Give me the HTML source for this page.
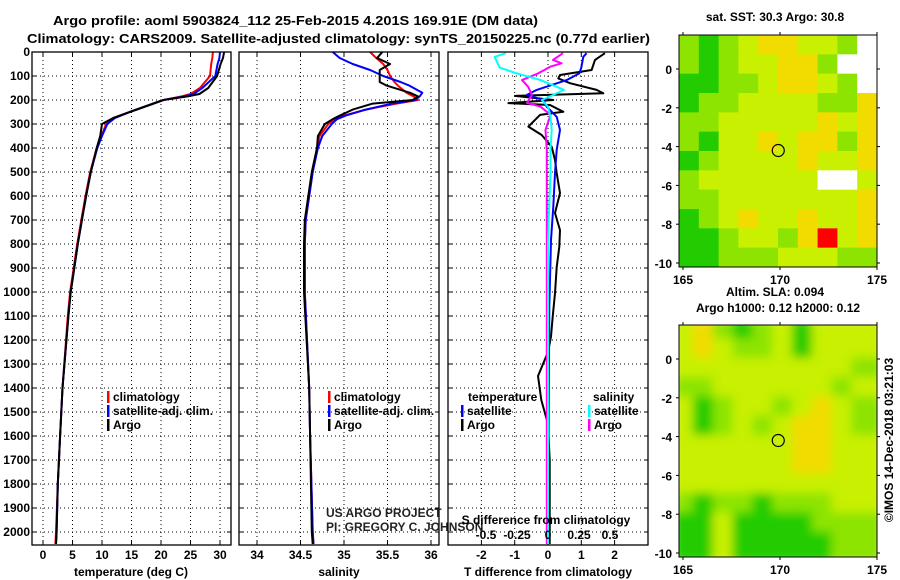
<!DOCTYPE html>
<html><head><meta charset="utf-8"><style>
html,body{margin:0;padding:0;background:#fff;}
svg{display:block;font-family:"Liberation Sans",sans-serif;}
.b{font-weight:bold;font-size:13px;}
.t{font-weight:bold;font-size:12px;}
</style></head><body>
<svg id="fig" width="900" height="580" viewBox="0 0 900 580" xmlns="http://www.w3.org/2000/svg">
<text class="b" x="53" y="25" textLength="485" lengthAdjust="spacingAndGlyphs">Argo profile: aoml 5903824_112 25-Feb-2015 4.201S 169.91E (DM data)</text>
<text class="b" x="27" y="43" textLength="623" lengthAdjust="spacingAndGlyphs">Climatology: CARS2009. Satellite-adjusted climatology: synTS_20150225.nc (0.77d earlier)</text>
<g id="maps"></g>
<g id="panels"></g>
</svg>
<script>
// ---------- data ----------
const depthTicks = [0,100,200,300,400,500,600,700,800,900,1000,1100,1200,1300,1400,1500,1600,1700,1800,1900,2000];
const tempTicks = [0,5,10,15,20,25,30];
const salTicks = [34,34.5,35,35.5,36];
const tdiffTicks = [-2,-1,0,1,2];
const sdiffTicks = [-0.5,-0.25,0,0.25,0.5];
const sdiffLabels = ["-0.5","-0.25","0","0.25","0.5"];

const tDepth = [0,25,50,100,150,175,185,200,250,275,300,350,400,500,600,700,800,900,1000,1100,1400,1500,1600,1800,2000,2050];
const tArgo  = [30.7,30.5,30.1,29.5,28,26.5,24.5,20.4,14.7,11.9,10,9.7,9.1,8.1,7.3,6.6,5.9,5.3,4.7,4.3,3.3,3.1,2.9,2.5,2.3,2.2];
const tClim  = [28.8,28.7,28.5,28.3,26.6,25,23.5,20.4,14.7,12.1,10.7,9.9,9.1,8.0,7.2,6.5,5.8,5.2,4.6,4.2,3.3,3.1,2.9,2.5,2.2,2.1];
const tSat   = [30.0,29.9,29.6,29.2,27,25.5,24,20.4,14.7,12.2,10.9,10.0,9.2,8.1,7.3,6.6,5.9,5.3,4.7,4.3,3.3,3.1,2.9,2.5,2.3,2.2];

const sDepth = [0,25,50,75,100,125,140,170,185,200,215,240,265,280,300,350,400,500,600,700,800,1000,1400,1600,2000,2050];
const sArgo  = [35.44,35.38,35.53,35.41,35.41,35.41,35.49,35.76,35.85,35.79,35.33,35.1,34.95,34.87,34.78,34.7,34.69,34.63,34.59,34.55,34.54,34.54,34.6,34.61,34.63,34.64];
const sClim  = [35.3,35.37,35.45,35.5,35.53,35.58,35.62,35.72,35.8,35.85,35.6,35.25,35.0,34.9,34.82,34.72,34.69,34.64,34.6,34.56,34.55,34.55,34.6,34.61,34.64,34.65];
const sSat   = [34.87,34.95,35.1,35.3,35.45,35.65,35.75,35.9,35.87,35.82,35.55,35.25,35.02,34.92,34.86,34.75,34.7,34.64,34.6,34.56,34.55,34.55,34.6,34.61,34.64,34.65];

const dDepth  = [5,33,75,96,110,130,158,172,183,200,213,221,249,262,311,346,395,450,505,588,671,742,812,896,1005,1103,1186,1250,1350,1450,1550,1700,2000,2050];
const dTArgo  = [1.71,1.41,1.31,0.36,0.31,0.66,1.46,1.66,-0.99,0.16,-1.19,0.06,0.46,-0.24,-0.59,-0.19,0.11,0.21,0.26,0.36,0.21,0.36,0.34,0.26,0.21,0.14,0.09,0.0,-0.3,-0.2,0.0,0.05,0.05,0.05];
const cDepth  = [5,20,65,89,117,158,179,200,228,270,325,408,505,644,783,1061,1500,2050];
const dTSat   = [1.16,1.06,1.0,0.94,0.56,-0.34,-0.64,-0.14,-0.04,0.26,0.36,0.26,0.21,0.16,0.09,0.04,0.02,0.0];
const dSSat   = [-0.34,-0.43,-0.39,-0.25,-0.06,0.13,0.04,-0.05,0.0,0.02,0.03,0.02,0.02,0.01,0.0,0.0,0.0,0.0];
const mDepth  = [5,33,47,61,89,117,145,179,212,228,262,325,408,700,1200,1600,2050];
const dSArgo  = [0.12,0.04,0.11,0.02,-0.08,-0.21,-0.16,-0.13,-0.17,-0.06,0.02,-0.02,-0.01,-0.01,-0.01,-0.01,-0.01];

const latTicks = [0,-2,-4,-6,-8,-10];
const lonTicks = [165,170,175];
const sstGrid = [
 "gGgyYYyygW","gGgyyYYgWW","GGggyYYygW","GggyyyyggY","ggyyyyyYyY","gGyyYyYYgY",
 "GgyyyyYyyY","gyyyyyyWWy","ggyyyyyyyY","GgyYyyYyyY","GGgyygYRyY","GGgggyyygg"];
const slaGrid = [
 "yYgGgyGyyy","yYyggyGyyy","yyyyyyyyyg","ggyyyyyygy","yGgyygyYyg","yGgygyYYyg",
 "yyyyyyYYyy","yyyyyyYYyy","yyyyyyyyyy","gGggGgggyy","GGyGGGGggg","GGyGGGGGgg"];

// ---------- helpers ----------
const NS="http://www.w3.org/2000/svg";
function mk(tag,attrs,parent,text){const e=document.createElementNS(NS,tag);for(const k in attrs)e.setAttribute(k,attrs[k]);if(text!==undefined)e.textContent=text;parent.appendChild(e);return e;}
const Y0=52, PXD=0.24, BOT=545;
const yD=d=>Y0+d*PXD;
const panels=document.getElementById('panels');

function panelFrame(x0,x1,name){
  const g=mk('g',{},panels);
  
  
  depthTicks.forEach(d=>{if(d>0){const l=mk('line',{x1:x0,x2:x1,y1:yD(d),y2:yD(d),stroke:'#000','stroke-width':1,'stroke-dasharray':'1,3'},g);}
    mk('line',{x1:x0,x2:x0+4,y1:yD(d),y2:yD(d),stroke:'#000'},g);mk('line',{x1:x1-4,x2:x1,y1:yD(d),y2:yD(d),stroke:'#000'},g);});
  return g;
}
function vgrid(g,xs){xs.forEach(x=>{const l=mk('line',{x1:x,x2:x,y1:Y0,y2:BOT,stroke:'#000','stroke-width':1,'stroke-dasharray':'1,3'},g);
  mk('line',{x1:x,x2:x,y1:Y0,y2:Y0+4,stroke:'#000'},g);mk('line',{x1:x,x2:x,y1:BOT-4,y2:BOT,stroke:'#000'},g);});}
function border(g,x0,x1){const r=mk('rect',{x:x0,y:Y0,width:x1-x0,height:BOT-Y0,fill:'none',stroke:'#000','stroke-width':1.3},g);}
function line(g,depths,vals,xf,color,name,w){
  const pts=depths.map((d,i)=>xf(vals[i]).toFixed(1)+','+yD(d).toFixed(1)).join(' ');
  const p=mk('polyline',{points:pts,fill:'none',stroke:color,'stroke-width':w||2,'stroke-linejoin':'round'},g);
  
}
function txt(g,x,y,s,cls,anchor,name,extra){const t=mk('text',Object.assign({x:x,y:y,class:cls||'t','text-anchor':anchor||'start'},extra||{}),g,s);return t;}
function legend(g,x,y,color,label,name){mk('rect',{x:x,y:y-10,width:2.5,height:12,fill:color},g);txt(g,x+6,y,label,'t','start',name);}

// y axis labels
const ya=mk('g',{},panels);


depthTicks.forEach(d=>txt(ya,30,yD(d)+4,String(d),'t','end','y-tick-label'));

// Panel 1 temperature
const xT=v=>43+v*5.9;
const g1=panelFrame(32,231,'temperature-panel');
vgrid(g1,tempTicks.map(xT));
line(g1,tDepth,tClim,xT,'#f00','climatology-temp-line');
line(g1,tDepth,tSat,xT,'#00f','satellite-temp-line');
line(g1,tDepth,tArgo,xT,'#000','argo-temp-line');
border(g1,32,231);
tempTicks.forEach(v=>txt(g1,xT(v),559,String(v),'t','middle','x-tick-label'));
txt(g1,131,576,'temperature (deg C)','t','middle','x-axis-title-temperature');
legend(g1,107,401,'#f00','climatology','legend-climatology');
legend(g1,107,415,'#00f','satellite-adj. clim.','legend-satellite');
legend(g1,107,429,'#000','Argo','legend-argo');

// Panel 2 salinity
const xS=v=>257+(v-34)*87;
const g2=panelFrame(239,439,'salinity-panel');
vgrid(g2,salTicks.map(xS));
line(g2,sDepth,sClim,xS,'#f00','climatology-sal-line');
line(g2,sDepth,sSat,xS,'#00f','satellite-sal-line');
line(g2,sDepth,sArgo,xS,'#000','argo-sal-line');
border(g2,239,439);
salTicks.forEach(v=>txt(g2,xS(v),559,String(v),'t','middle','x-tick-label'));
txt(g2,339,576,'salinity','t','middle','x-axis-title-salinity');
legend(g2,328,401,'#f00','climatology','legend-climatology');
legend(g2,328,415,'#00f','satellite-adj. clim.','legend-satellite');
legend(g2,328,429,'#000','Argo','legend-argo');
txt(g2,326,517,'US ARGO PROJECT','','start','credit-project',{'font-size':'12px',fill:'#222'});
txt(g2,326,531,'PI: GREGORY C. JOHNSON','','start','credit-pi',{'font-size':'12px',fill:'#222'});

// Panel 3 differences
const xDT=v=>548+v*33.3;
const xDS=v=>548+v*124;
const g3=panelFrame(448,648,'difference-panel');
vgrid(g3,tdiffTicks.map(xDT));
line(g3,dDepth,dTArgo,xDT,'#000','argo-tdiff-line');
line(g3,cDepth,dTSat,xDT,'#00f','satellite-tdiff-line');
line(g3,mDepth,dSArgo,xDS,'#f0f','argo-sdiff-line');
line(g3,cDepth,dSSat,xDS,'#0ff','satellite-sdiff-line');
border(g3,448,648);
tdiffTicks.forEach(v=>txt(g3,xDT(v),559,String(v),'t','middle','x-tick-label'));
txt(g3,548,576,'T difference from climatology','t','middle','x-axis-title-tdiff');
txt(g3,546,524,'S difference from climatology','t','middle','x-axis-title-sdiff');
sdiffTicks.forEach((v,i)=>txt(g3,xDS(v),539,sdiffLabels[i],'t','middle','s-tick-label'));
txt(g3,468,401,'temperature','t','start','legend-temperature-header');
txt(g3,593,401,'salinity','t','start','legend-salinity-header');
legend(g3,461,415,'#00f','satellite','legend-t-satellite');
legend(g3,461,429,'#000','Argo','legend-t-argo');
legend(g3,588,415,'#0ff','satellite','legend-s-satellite');
legend(g3,588,429,'#f0f','Argo','legend-s-argo');

// ---------- maps ----------
const maps=document.getElementById('maps');
const COLS={G:'#22cc00',g:'#8ce400',y:'#c8f000',Y:'#f2dc00',W:'#ffffff',R:'#ff0000'};
const MX0=679, MX1=877;
const lonX=lon=>683+(lon-165)*19.4;
function drawMap(top,bottom,lat0y,latStep,grid,title1,title2,name,blur){
  const g=mk('g',{},maps);
  
  
  const latY=lat=>lat0y-lat*latStep;
  const cw=(MX1-MX0)/grid[0].length, ch=(bottom-top)/grid.length;
  const cid='clip'+name;
  const cp=mk('clipPath',{id:cid},g);mk('rect',{x:MX0,y:top,width:MX1-MX0,height:bottom-top},cp);
  const inner=mk('g',{'clip-path':'url(#'+cid+')'},g);
  const cells=mk('g',blur?{filter:'url(#blur)'}:{},inner);
  grid.forEach((row,r)=>[...row].forEach((c,k)=>{const rc=mk('rect',{x:MX0+k*cw-(blur?6:0),y:top+r*ch-(blur?6:0),width:cw+(blur?12:0.5),height:ch+(blur?12:0.5),fill:COLS[c]},cells);}));
  mk('rect',{x:MX0,y:top,width:MX1-MX0,height:bottom-top,fill:'none',stroke:'#000','stroke-width':1},g);
  latTicks.forEach(l=>{mk('line',{x1:MX0-3,x2:MX0,y1:latY(l),y2:latY(l),stroke:'#000'},g);mk('line',{x1:MX1,x2:MX1+3,y1:latY(l),y2:latY(l),stroke:'#000'},g);
    txt(g,672,latY(l)+5,String(l),'t','end','lat-tick-label');});
  lonTicks.forEach(l=>{mk('line',{x1:lonX(l),x2:lonX(l),y1:top-3,y2:top,stroke:'#000'},g);mk('line',{x1:lonX(l),x2:lonX(l),y1:bottom,y2:bottom+3,stroke:'#000'},g);
    txt(g,lonX(l),bottom+17,String(l),'t','middle','lon-tick-label');});
  const c=mk('circle',{cx:lonX(169.91),cy:latY(-4.201),r:6,fill:'none',stroke:'#000','stroke-width':1.2},g);
  
  txt(g,775,top-14-(title2?15:0)+ (title2?0:0),title1,'t','middle','map-title');
  if(title2)txt(g,778,top-13,title2,'t','middle','map-subtitle');
}
const defs=mk('defs',{},maps);
const f=mk('filter',{id:'blur',x:'-5%',y:'-5%',width:'110%',height:'110%'},defs);
mk('feGaussianBlur',{stdDeviation:5},f);
drawMap(35,267,69,19.4,sstGrid,'sat. SST: 30.3 Argo: 30.8',null,'sst-map',false);
drawMap(325,557,359,19.4,slaGrid,'Altim. SLA: 0.094','Argo h1000: 0.12 h2000: 0.12','sla-map',true);
txt(maps,893,440,'\u00A9IMOS 14-Dec-2018 03:21:03','','middle','timestamp',{'font-size':'12px',transform:'rotate(-90 893 440)'});
</script>
</body></html>
